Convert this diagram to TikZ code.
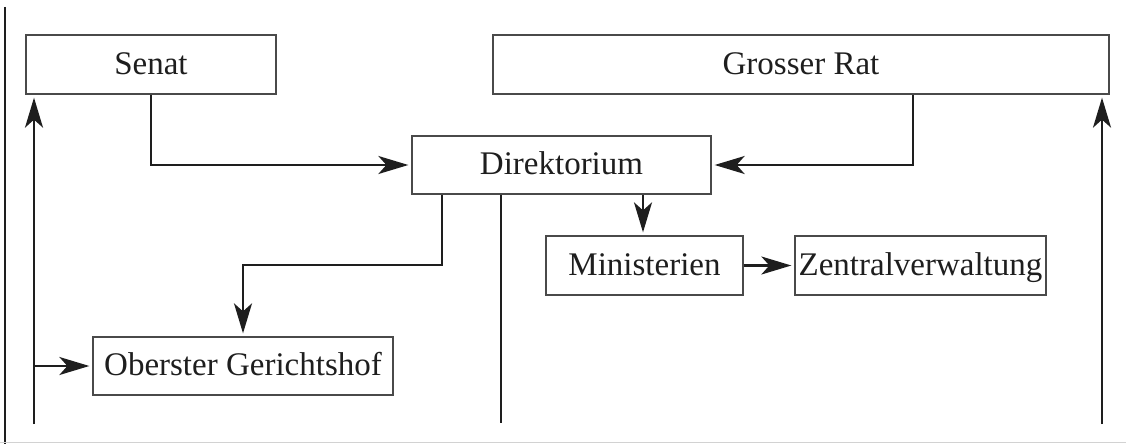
\documentclass[tikz,border=0pt]{standalone}
\usepackage{fontspec}
\setmainfont{Liberation Serif}
\usetikzlibrary{arrows.meta}
\definecolor{ink}{HTML}{1E1E1E}
\definecolor{boxline}{HTML}{4A4A4A}
\tikzset{
  orgbox/.style={draw=boxline, line width=1.3pt, rectangle, inner sep=0pt,
    text height=21.5pt, text depth=2pt, font=\fontsize{33}{39}\selectfont, text=ink},
  conn/.style={draw=ink, line width=2.2pt},
  arr/.style={conn, -{Stealth[length=30pt, width=18pt, inset=8pt]}, shorten >=3pt},
}
\begin{document}
\begin{tikzpicture}[x=1pt, y=-1pt]
\useasboundingbox (0,0) rectangle (1126,444);
% boxes
\node[orgbox, minimum width=250pt, minimum height=59pt] (sen) at (151,64.5) {Senat};
\node[orgbox, minimum width=616pt, minimum height=59pt] (gr) at (801,64.5) {Grosser Rat};
\node[orgbox, minimum width=299pt, minimum height=58pt] (dir) at (561.5,165) {Direktorium};
\node[orgbox, minimum width=197pt, minimum height=59pt] (min) at (644.5,265.5) {Ministerien};
\node[orgbox, minimum width=251pt, minimum height=59pt] (zen) at (920.5,265.5) {Zentralverwaltung};
\node[orgbox, minimum width=300pt, minimum height=58pt] (ob) at (243,366) {Oberster Gerichtshof};
% helper coordinates
\coordinate (b1) at (5,7);
\coordinate (b2) at (5,444);
\coordinate (l1) at (34,424);
\coordinate (r1) at (1102,424);
\coordinate (g1) at (913,94);
\coordinate (j1) at (442,265);
\coordinate (e1) at (501,423);
% frame lines
\draw[conn] (b1) -- (b2);
\draw[gray!35, line width=0.8pt] (0,442.5) -- (1126,442.5);
% connectors
\draw[arr] (sen.south) |- (dir.west);
\draw[arr] (g1 |- gr.south) |- (dir.east);
\draw[arr] (dir.south -| j1) -- (j1) -| (ob.north);
\draw[conn] (dir.south -| e1) -- (e1);
\draw[arr] ([xshift=-1.5pt]min.north |- dir.south) -- ([xshift=-1.5pt]min.north);
\draw[arr] (min.east) -- (zen.west);
\draw[arr] (l1) -- (l1 |- sen.south);
\draw[arr] (l1 |- ob.west) -- (ob.west);
\draw[arr] (r1) -- (r1 |- gr.south);
\end{tikzpicture}
\end{document}
